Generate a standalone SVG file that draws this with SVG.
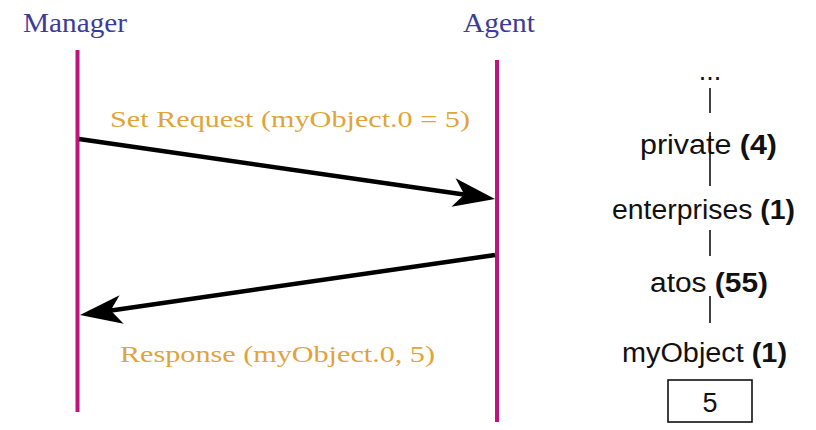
<svg xmlns="http://www.w3.org/2000/svg" width="816" height="430" viewBox="0 0 816 430">
<style>
.actor{font-family:"Liberation Serif","DejaVu Serif",serif;font-size:27px;fill:#3c3c98}
.msg{font-family:"Liberation Serif","DejaVu Serif",serif;font-size:23px;fill:#e0a43c}
.life{stroke:#c0137c;stroke-width:4;fill:none}
.arrow{stroke:#000;stroke-width:4.5;fill:none;marker-end:url(#head)}
.tree{font-family:"Liberation Sans",Arial,sans-serif;font-size:27px;fill:#111;text-anchor:middle}
.tree tspan.b{font-weight:bold}
.tl{stroke:#111;stroke-width:1.6}
</style>
<defs>
<marker id="head" markerUnits="userSpaceOnUse" orient="auto" refX="0" refY="0" markerWidth="60" markerHeight="40" overflow="visible">
<path d="M28,0 L-14,-15 L-3,0 L-14,14 Z" fill="#000"/>
</marker>
</defs>
<rect width="816" height="430" fill="#fff"/>
<g id="manager">
<text class="actor" x="23" y="32" textLength="104" lengthAdjust="spacingAndGlyphs">Manager</text>
<line class="life" x1="77.5" y1="50" x2="77.5" y2="412"/>
</g>
<g id="agent">
<text class="actor" x="463" y="32" textLength="72" lengthAdjust="spacingAndGlyphs">Agent</text>
<line class="life" x1="497" y1="60" x2="497" y2="422"/>
</g>
<g id="connectors">
<path class="arrow" d="M79,139 L467.3,195"/>
<path class="arrow" d="M495,255 L107.7,311"/>
<text class="msg" x="110" y="127" textLength="360" lengthAdjust="spacingAndGlyphs">Set Request (myObject.0 = 5)</text>
<text class="msg" x="120" y="362" textLength="315" lengthAdjust="spacingAndGlyphs">Response (myObject.0, 5)</text>
</g>
<g id="tree">
<text class="tree" x="710" y="80" font-size="18">...</text>
<line class="tl" x1="710" y1="88" x2="710" y2="113"/>
<text class="tree" x="708.5" y="154" textLength="137" lengthAdjust="spacingAndGlyphs">private <tspan class="b">(4)</tspan></text>
<line class="tl" x1="710" y1="132" x2="710" y2="186"/>
<text class="tree" x="703.5" y="219" textLength="183" lengthAdjust="spacingAndGlyphs">enterprises <tspan class="b">(1)</tspan></text>
<line class="tl" x1="710" y1="230" x2="710" y2="256"/>
<text class="tree" x="709" y="292" textLength="118" lengthAdjust="spacingAndGlyphs">atos <tspan class="b">(55)</tspan></text>
<line class="tl" x1="710" y1="296" x2="710" y2="323"/>
<text class="tree" x="704.5" y="362" textLength="165" lengthAdjust="spacingAndGlyphs">myObject <tspan class="b">(1)</tspan></text>
</g>
<g id="value">
<rect x="668" y="380" width="84" height="42" fill="#fff" stroke="#111" stroke-width="1.6"/>
<text class="tree" x="710" y="412" font-size="28">5</text>
</g>
</svg>
